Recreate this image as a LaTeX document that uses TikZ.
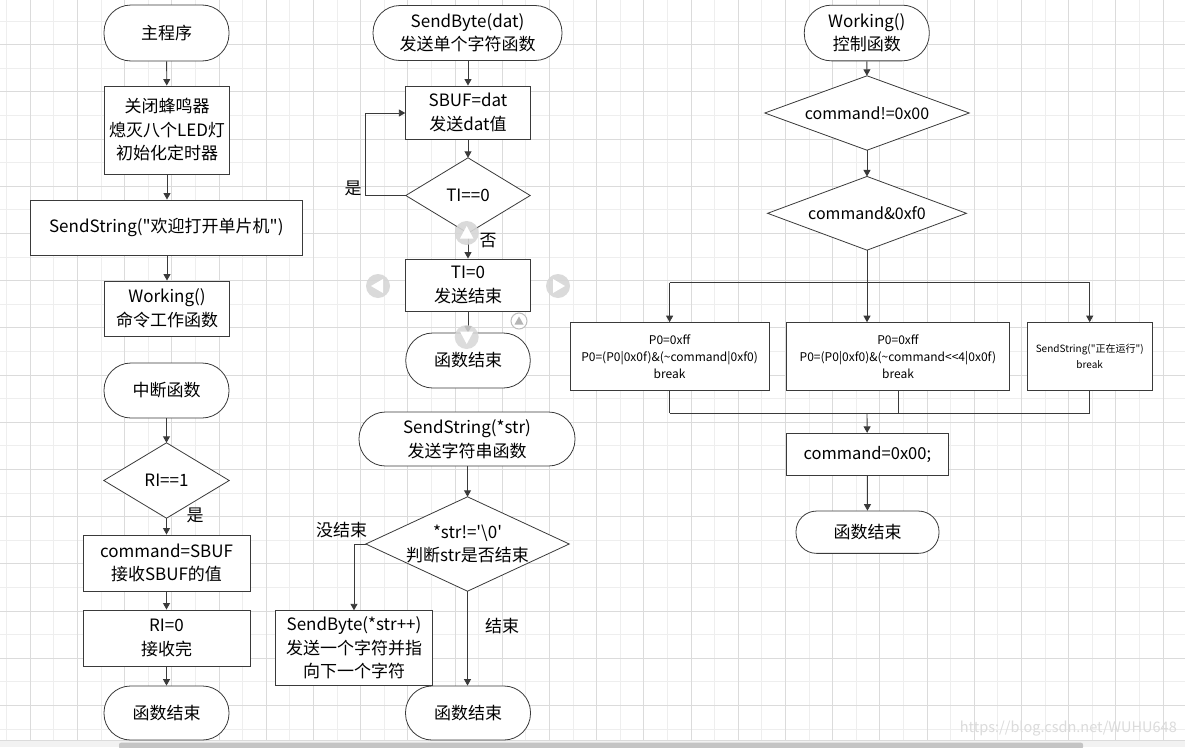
\documentclass[tikz,border=0pt]{standalone}
\usepackage{fontspec}
\setmainfont{Noto Sans CJK SC}[Ligatures=TeXOff]
\usetikzlibrary{arrows.meta,calc}
\definecolor{ln}{HTML}{3A3A3A}
\definecolor{gmin}{HTML}{EEEEEE}
\definecolor{gmaj}{HTML}{DBDBDB}
\definecolor{uig}{HTML}{D6D6D6}
\definecolor{strip}{HTML}{F2F2F2}
\definecolor{sbar}{HTML}{C4C4C4}
\definecolor{uiedge}{HTML}{BDBDBD}
\definecolor{uitri}{HTML}{B5B5B5}
\newcommand\drawdiam[1]{\draw[ln, line width=0.8pt, fill=white] (#1.north) -- (#1.east) -- (#1.south) -- (#1.west) -- cycle;}
\begin{document}
\begin{tikzpicture}[x=1pt,y=-1pt,
  every node/.style={font=\fontsize{17}{23.5}\selectfont, text=black},
  term/.style={draw=ln, line width=0.8pt, align=center, inner sep=0pt, fill=white},
  proc/.style={draw=ln, line width=0.9pt, align=center, inner sep=0pt, fill=white},
  dec/.style={rectangle, align=center, inner sep=0pt},
  lbl/.style={inner sep=0pt},
  conn/.style={draw=ln, line width=0.9pt},
  arr/.style={conn, -{Triangle[width=7pt,length=6.5pt]}},
  small/.style={font=\fontsize{12}{17}\selectfont},
  tiny/.style={font=\fontsize{10}{16}\selectfont}]
\useasboundingbox (0,0) rectangle (1185,747);
\fill[white] (0,0) rectangle (1185,747);
% grid
\foreach \k in {0,2,...,50} \draw[gmin,line width=0.9pt] ({6.7+23.6*\k},0) -- ({6.7+23.6*\k},741);
\foreach \k in {0,2,...,30} \draw[gmin,line width=0.9pt] (0,{21+23.6*\k}) -- (1185,{21+23.6*\k});
\foreach \k in {1,3,...,49} \draw[gmaj,line width=0.9pt] ({6.7+23.6*\k},0) -- ({6.7+23.6*\k},741);
\foreach \k in {1,3,...,29} \draw[gmaj,line width=0.9pt] (0,{21+23.6*\k}) -- (1185,{21+23.6*\k});
% bottom strip and scrollbar
\fill[strip] (0,740.5) rectangle (1185,747);
\draw[gmaj,line width=0.8pt] (0,740.5) -- (1185,740.5);
\fill[sbar, rounded corners=2pt] (119,742.7) rectangle (1083,749);
% watermark
\node[anchor=east, text=gray!28, font=\fontsize{14.5}{15}\selectfont, inner sep=0pt] (wm) at (1177,729) {https://blog.csdn.net/WUHU648};

% ===== Column 1: main program =====
\node[term, rounded corners=27pt, minimum width=125pt, minimum height=56pt] (m0) at (166.5,33) {主程序};
\node[proc, minimum width=124.5pt, minimum height=88pt] (m1) at (167,130) {关闭蜂鸣器\\熄灭八个LED灯\\初始化定时器};
\node[proc, minimum width=271.3pt, minimum height=55pt] (m2) at (166.3,227.5) {SendString("欢迎打开单片机")};
\node[proc, minimum width=124.5pt, minimum height=55pt] (m3) at (167,308.5) {Working()\\命令工作函数};
\draw[arr] (m0) -- (m1);
\draw[arr] (m1) -- (m1 |- m2.north);
\draw[arr] (m2.south -| m1) -- (m3);

% interrupt
\node[term, rounded corners=27pt, minimum width=125pt, minimum height=55pt] (i0) at (166.5,390.5) {中断函数};
\node[dec, minimum width=125pt, minimum height=75pt] (i1) at (166.5,480.5) {};
\drawdiam{i1}
\node[lbl] (i1t) at (i1) {RI==1};
\node[proc, minimum width=167pt, minimum height=56pt] (i2) at (166.5,563) {command=SBUF\\接收SBUF的值};
\node[proc, minimum width=167pt, minimum height=56pt] (i3) at (166.5,638) {RI=0\\接收完};
\node[term, rounded corners=26.5pt, minimum width=125pt, minimum height=54pt] (i4) at (166.5,713) {函数结束};
\draw[arr] (i0) -- (i1);
\draw[arr] (i1) -- (i2);
\draw[arr] (i2) -- (i3);
\draw[arr] (i3) -- (i4);
\node[lbl] (yes1) at (195,515) {是};

% ===== Column 2: SendByte =====
\node[term, rounded corners=27pt, minimum width=189pt, minimum height=55pt] (b0) at (467.5,33) {SendByte(dat)\\发送单个字符函数};
\node[proc, minimum width=124.5pt, minimum height=53pt] (b1) at (468,112.5) {SBUF=dat\\发送dat值};
\node[dec, minimum width=124pt, minimum height=75pt] (b2) at (468,195.5) {};
\drawdiam{b2}
\node[lbl] (b2t) at (b2) {TI==0};
\node[proc, minimum width=124.5pt, minimum height=52pt] (b3) at (468,285) {TI=0\\发送结束};
\node[term, rounded corners=27pt, minimum width=124.5pt, minimum height=55pt] (b4) at (468,360.5) {函数结束};
\coordinate (lp1) at (365.7,195.5);
\coordinate (lp2) at (365.7,113);
\draw[arr] (b0.south -| b1) -- (b1);
\draw[arr] (b1) -- (b2);
\draw[arr] (b2) -- (b3);
\draw[arr] (b3) -- (b4);
\draw[arr] (b2.west) -- (lp1) -- (lp2) -- (lp2 -| b1.west);
\node[lbl] (yes2) at (353,188) {是};
\node[lbl] (no2) at (488,241) {否};

% SendString
\node[term, rounded corners=26.5pt, minimum width=216pt, minimum height=54pt] (s0) at (467,439) {SendString(*str)\\发送字符串函数};
\node[dec, minimum width=203pt, minimum height=94pt] (s1) at (467.5,544) {};
\drawdiam{s1}
\node[lbl, align=center] (s1t) at (s1) {*str!='\textbackslash 0'\\判断str是否结束};
\node[proc, minimum width=156.6pt, minimum height=74.5pt] (s2) at (354,648) {SendByte(*str++)\\发送一个字符并指\\向下一个字符};
\node[term, rounded corners=26.5pt, minimum width=125pt, minimum height=54pt] (s3) at (468,713) {函数结束};
\draw[arr] (s0.south -| s1) -- (s1);
\draw[arr] (s1.west) -- (s1.west -| s2.north) -- (s2.north);
\draw[arr] (s1.south) -- (s1.south |- s3.north);
\node[lbl] (nend) at (341.7,530) {没结束};
\node[lbl] (yend) at (502,626) {结束};

% ===== Column 3: Working =====
\node[term, rounded corners=27pt, minimum width=125pt, minimum height=55.7pt] (w0) at (866.8,33) {Working()\\控制函数};
\node[dec, minimum width=204pt, minimum height=74pt] (w1) at (867,113) {};
\drawdiam{w1}
\node[lbl, font=\fontsize{16}{20}\selectfont] (w1t) at (w1) {command!=0x00};
\node[dec, minimum width=198.4pt, minimum height=73.3pt] (w2) at (867,213.3) {};
\drawdiam{w2}
\node[lbl, font=\fontsize{16}{20}\selectfont] (w2t) at (w2) {command\&0xf0};
\node[proc, small, minimum width=199.2pt, minimum height=67.3pt] (c1) at (669.6,356.3) {P0=0xff\\P0=(P0|0x0f)\&(\textasciitilde command|0xf0)\\break};
\node[proc, small, minimum width=223.2pt, minimum height=67.3pt] (c2) at (898,356.3) {P0=0xff\\P0=(P0|0xf0)\&(\textasciitilde command<<4|0x0f)\\break};
\node[proc, tiny, minimum width=125.2pt, minimum height=67.3pt] (c3) at (1089.7,356.3) {SendString("正在运行")\\break};
\node[proc, font=\fontsize{16.5}{20}\selectfont, minimum width=161.8pt, minimum height=41.7pt] (d0) at (867.3,454.2) {command=0x00;};
\node[term, rounded corners=20.5pt, minimum width=143pt, minimum height=42.3pt] (d1) at (867.5,532.2) {函数结束};
\coordinate (br) at (867,282.7);
\coordinate (jn) at (867,413.3);
\draw[arr] (w0) -- (w1);
\draw[arr] (w1) -- (w2);
\draw[conn] (w2.south) -- (br);
\draw[conn] (br -| c1) -- (br -| c3);
\draw[arr] (br) -- (br |- c2.north);
\draw[arr] (br -| c1) -- (c1.north);
\draw[arr] (br -| c3) -- (c3.north);
\draw[conn] (c1.south) -- (jn -| c1);
\draw[conn] (c2.south) -- (jn -| c2);
\draw[conn] (c3.south) -- (jn -| c3);
\draw[conn] (jn -| c1) -- (jn -| c3);
\draw[arr] (jn) -- (d0);
\draw[arr] (d0) -- (d1);

% ===== editor UI overlay =====
\fill[uig, opacity=0.9] (466.7,233) circle (12pt);
\fill[white] (466.7,226) -- (460,238.5) -- (473.4,238.5) -- cycle;
\fill[uig, opacity=0.9] (378,286) circle (12pt);
\fill[white] (371,286) -- (383,279) -- (383,293) -- cycle;
\fill[uig, opacity=0.9] (558,286) circle (12pt);
\fill[white] (565,286) -- (553,279) -- (553,293) -- cycle;
\fill[uig, opacity=0.85] (466.7,337) circle (12pt);
\fill[white] (466.7,344) -- (460,331.5) -- (473.4,331.5) -- cycle;
\draw[uiedge, fill=white, line width=1pt] (519,321) circle (8pt);
\fill[uitri] (519,316.5) -- (514.5,324.5) -- (523.5,324.5) -- cycle;
\end{tikzpicture}
\end{document}
